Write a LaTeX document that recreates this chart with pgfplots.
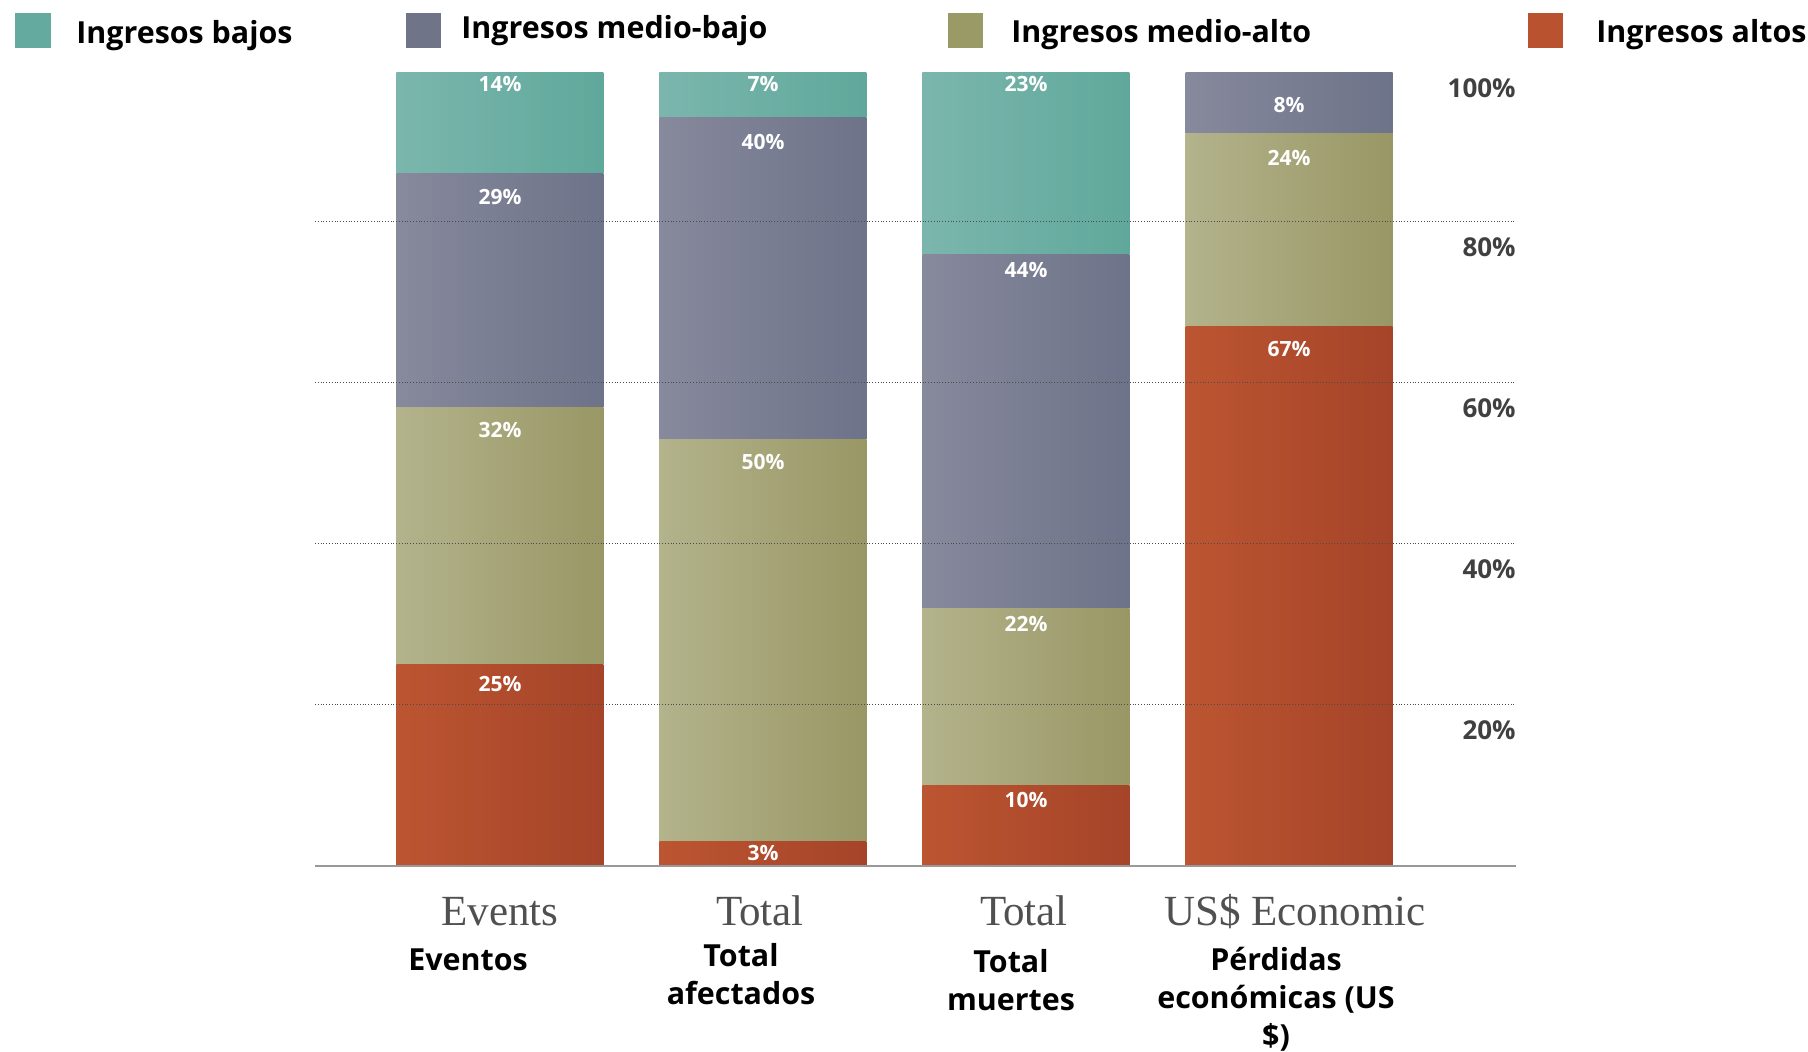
\documentclass[border=0pt]{standalone}
\usepackage{fontspec}
\setmainfont{Open Sans}
\newfontfamily\serifen{Liberation Serif}
\usepackage{pgfplots}
\pgfplotsset{compat=1.18}

% bar shading (left -> right) and legend swatches
\definecolor{bajL}{HTML}{7BB6AD}
\definecolor{bajR}{HTML}{60A89B}
\definecolor{mbL}{HTML}{87899C}
\definecolor{mbR}{HTML}{6D7389}
\definecolor{maL}{HTML}{B3B38C}
\definecolor{maR}{HTML}{999765}
\definecolor{altL}{HTML}{BC5531}
\definecolor{altR}{HTML}{A54429}
\definecolor{legBaj}{HTML}{64AA9E}
\definecolor{legMB}{HTML}{707489}
\definecolor{legMA}{HTML}{9A9A66}
\definecolor{legAlt}{HTML}{B9532F}
\definecolor{tickgray}{HTML}{404040}
\definecolor{engray}{HTML}{505050}

\newcommand{\sansb}{\bfseries\fontsize{15.2}{15.2}\selectfont}

\pgfplotsset{
  frame/.style={
    at={(157.5pt,-433pt)}, anchor=south west,
    width=600.5pt, height=396.5pt, scale only axis,
    xmin=-0.703, xmax=3.863, ymin=0, ymax=98.5,
  },
  catax/.style={frame, hide axis, ybar stacked, bar width=103.5pt},
  altos/.style={draw=none, left color=altL, right color=altR},
  medalt/.style={draw=none, left color=maL, right color=maR},
  medbaj/.style={draw=none, left color=mbL, right color=mbR},
  bajos/.style={draw=none, left color=bajL, right color=bajR},
}
\tikzset{lbl/.style={text=white, inner sep=0pt, font=\bfseries\fontsize{10.5}{10.5}\selectfont}}

\begin{document}
\begin{tikzpicture}
% one axis per category, so that every bar gets its own left-right shading
\begin{axis}[catax]
\addplot[altos]  coordinates {(0,25)};
\addplot[medalt] coordinates {(0,32)};
\addplot[medbaj] coordinates {(0,29)};
\addplot[bajos]  coordinates {(0,14)};
\end{axis}
\begin{axis}[catax]
\addplot[altos]  coordinates {(1,3)};
\addplot[medalt] coordinates {(1,50)};
\addplot[medbaj] coordinates {(1,40)};
\addplot[bajos]  coordinates {(1,7)};
\end{axis}
\begin{axis}[catax]
\addplot[altos]  coordinates {(2,10)};
\addplot[medalt] coordinates {(2,22)};
\addplot[medbaj] coordinates {(2,44)};
\addplot[bajos]  coordinates {(2,23)};
\end{axis}
\begin{axis}[catax]
\addplot[altos]  coordinates {(3,67)};
\addplot[medalt] coordinates {(3,24)};
\addplot[medbaj] coordinates {(3,8)};
\addplot[bajos]  coordinates {(3,1)};
\end{axis}

% grid, baseline and tick labels on top of the bars
\begin{axis}[
    frame,
    axis line style={draw=none},
    xtick=\empty,
    ytick={20,40,60,80},
    yticklabel pos=right,
    yticklabel={\pgfmathprintnumber{\tick}\%},
    yticklabel style={anchor=east, inner sep=0pt, yshift=-12.5pt,
        font=\bfseries\fontsize{13}{13}\selectfont, text=tickgray},
    /pgf/number format/assume math mode=true,
    major tick length=0pt,
    ymajorgrids,
    major grid style={densely dotted, draw=black!70, line width=0.5pt},
]
\draw[draw=black!40, line width=1.2pt] (rel axis cs:0,0) -- (rel axis cs:1,0);
\end{axis}

\begin{scope}[x=0.5pt, y=-0.5pt]
% segment labels
\node[lbl] at (500,684) {25\%};
\node[lbl] at (500,430) {32\%};
\node[lbl] at (500,197) {29\%};
\node[lbl] at (500,84)  {14\%};
\node[lbl] at (763,853) {3\%};
\node[lbl] at (763,462) {50\%};
\node[lbl] at (763,142) {40\%};
\node[lbl] at (763,84)  {7\%};
\node[lbl] at (1026,800) {10\%};
\node[lbl] at (1026,624) {22\%};
\node[lbl] at (1026,270) {44\%};
\node[lbl] at (1026,84)  {23\%};
\node[lbl] at (1289,349) {67\%};
\node[lbl] at (1289,158) {24\%};
\node[lbl] at (1289,105) {8\%};

% legend
\fill[legBaj] (15,13) rectangle (51,48);
\node[anchor=west, inner sep=0pt, font=\sansb] at (76,36) {Ingresos bajos};
\fill[legMB] (406,13) rectangle (441,48);
\node[anchor=west, inner sep=0pt, font=\sansb] at (461,31) {Ingresos medio-bajo};
\fill[legMA] (948,13) rectangle (983,48);
\node[anchor=west, inner sep=0pt, font=\sansb] at (1011,35) {Ingresos medio-alto};
\fill[legAlt] (1528,13) rectangle (1563,48);
\node[anchor=west, inner sep=0pt, font=\sansb] at (1596,35) {Ingresos altos};

% 100% label above the cropped top
\node[anchor=east, inner sep=0pt, font=\bfseries\fontsize{13}{13}\selectfont, text=tickgray] at (1516,88) {100\%};

% original English category names
\begin{scope}[every node/.style={anchor=base, inner sep=0pt, text=engray, font=\serifen\fontsize{21.5}{21.5}\selectfont}]
\node at (500,925) {Events};
\node at (760,925) {Total};
\node at (1024,925) {Total};
\node at (1295,925) {US\$ Economic};
\end{scope}

% Spanish category names
\begin{scope}[every node/.style={anchor=base, inner sep=0pt, font=\sansb}]
\node at (468,970) {Eventos};
\node at (741,966) {Total};
\node at (741,1004) {afectados};
\node at (1011,972) {Total};
\node at (1011,1010) {muertes};
\node at (1276,970) {Pérdidas};
\node at (1276,1008) {económicas (US};
\node at (1276,1046) {\$)};
\end{scope}

\pgfresetboundingbox
\path (0,0) rectangle (1808,1052);
\end{scope}
\end{tikzpicture}
\end{document}
